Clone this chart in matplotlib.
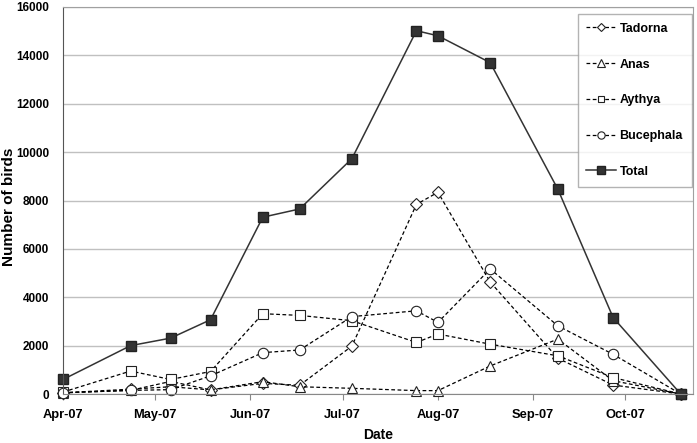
import numpy as np
import matplotlib.pyplot as plt
import matplotlib.dates as mdates
from datetime import date

plt.rcParams['font.family'] = ['Liberation Sans', 'DejaVu Sans']
plt.rcParams['font.weight'] = 'bold'

# Survey dates and counts
dates = [date(2007, 4, 1), date(2007, 4, 23), date(2007, 5, 6), date(2007, 5, 19),
         date(2007, 6, 5), date(2007, 6, 17), date(2007, 7, 4), date(2007, 7, 25),
         date(2007, 8, 1), date(2007, 8, 18), date(2007, 9, 9), date(2007, 9, 27),
         date(2007, 10, 19)]

tadorna = [50, 200, 300, 170, 440, 360, 1980, 7840, 8340, 4630, 1480, 370, 0]
anas = [50, 150, 520, 170, 510, 300, 235, 140, 140, 1160, 2270, 550, 0]
aythya = [80, 950, 600, 930, 3320, 3250, 3030, 2130, 2480, 2060, 1580, 680, 0]
bucephala = [50, 150, 180, 750, 1710, 1820, 3200, 3440, 2960, 5170, 2820, 1640, 0]
total = [600, 2000, 2310, 3070, 7310, 7650, 9730, 15020, 14810, 13700, 8470, 3160, 0]

fig = plt.figure(figsize=(6.97, 4.43), dpi=100)
ax = fig.add_axes([0.0904, 0.1106, 0.9039, 0.8736])

dash = dict(ls=(0, (3, 2)), lw=0.9, color='black', mfc='white', mec='#222222',
            mew=0.8, clip_on=False)
ax.plot(dates, tadorna, marker='D', ms=6, label='Tadorna', **dash)
ax.plot(dates, anas, marker='^', ms=7.5, label='Anas', **dash)
ax.plot(dates, aythya, marker='s', ms=7, label='Aythya', **dash)
ax.plot(dates, bucephala, marker='o', ms=7.5, label='Bucephala', **dash)
ax.plot(dates, total, marker='s', ms=7.5, color='#333333', lw=1.1,
        mfc='#333333', mec='#222222', label='Total', clip_on=False)

ax.set_xlim(date(2007, 4, 1), date(2007, 10, 23))
ax.set_ylim(0, 16000)
ax.set_yticks(np.arange(0, 16001, 2000))
ax.xaxis.set_major_locator(mdates.MonthLocator())
ax.xaxis.set_major_formatter(mdates.DateFormatter('%b-%y'))

ax.yaxis.grid(True, color='#c0c0c0', lw=1)
ax.set_axisbelow(True)
for s in ['top', 'right']:
    ax.spines[s].set_color('#a0a0a0')
ax.spines['left'].set_color('#555555')
ax.spines['bottom'].set_color('#888888')
ax.tick_params(axis='x', length=4, color='#888888', labelsize=9.3, pad=7)
ax.tick_params(axis='y', length=0, labelsize=8.5, pad=10)
for lbl in ax.get_xticklabels() + ax.get_yticklabels():
    lbl.set_fontweight('bold')

ax.set_xlabel('Date', fontsize=10, fontweight='bold')
ax.set_ylabel('Number of birds', fontsize=11, fontweight='bold')
ax.xaxis.set_label_coords(0.5, -0.106, transform=ax.transAxes)
ax.yaxis.set_label_coords(-0.0865, 0.484, transform=ax.transAxes)
ax.xaxis.label.set_va('center')
ax.yaxis.label.set_va('center')

leg = ax.legend(loc='upper right', bbox_to_anchor=(0.9976, 0.9819),
                prop={'weight': 'bold', 'size': 9}, frameon=True, fancybox=False,
                edgecolor='#a0a0a0', handlelength=2.4, handletextpad=0.25,
                labelspacing=1.9, borderpad=0.7, borderaxespad=0, markerscale=0.7)
leg.get_frame().set_linewidth(1)

plt.savefig('out.png', dpi=100)
